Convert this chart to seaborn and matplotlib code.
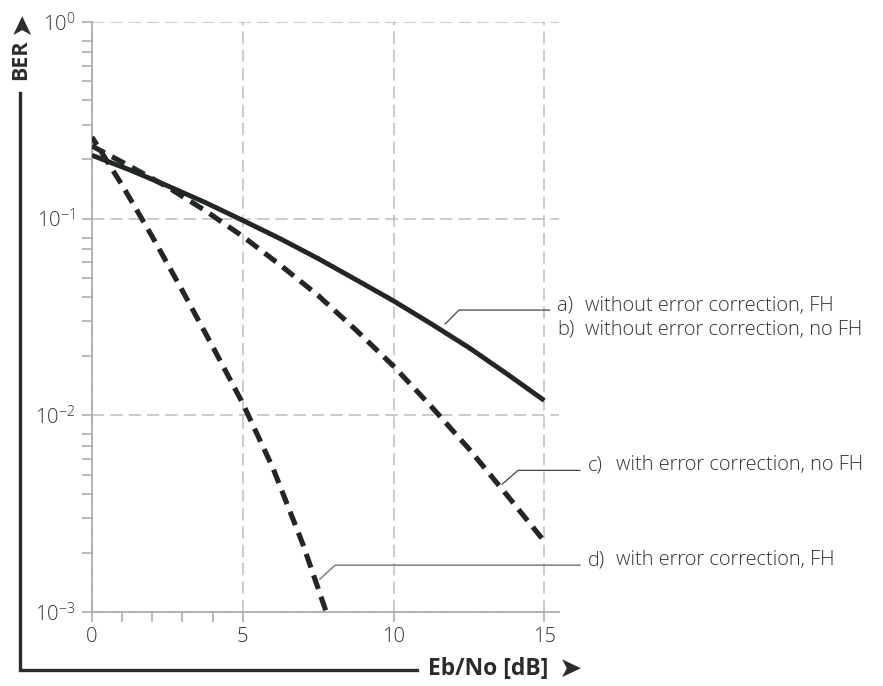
import matplotlib
matplotlib.use("Agg")
import matplotlib.pyplot as plt
import seaborn as sns
import pandas as pd
from matplotlib.lines import Line2D
from matplotlib.ticker import FixedLocator, LogLocator, NullFormatter

# ---- data ----
ebno_ab = [0, 1.25, 2.5, 3.75, 5, 6.25, 7.5, 8.75, 10, 11.25, 12.5, 13.75, 15]
ber_ab = [0.21, 0.177, 0.147, 0.121, 0.098, 0.079, 0.0627, 0.049, 0.0382,
          0.0292, 0.0221, 0.0163, 0.0119]

ebno_c = [0, 1.25, 2.5, 3.75, 5, 6.25, 7.5, 8.75, 10, 11.25, 12.5, 13.75, 15]
ber_c = [0.234, 0.185, 0.145, 0.110, 0.0813, 0.058, 0.0407, 0.0272, 0.0178,
         0.0111, 0.00676, 0.00395, 0.00229]

ebno_d = [7.75, 7, 6, 5, 4, 3, 2, 1, 0]
ber_d = [0.00102, 0.0022, 0.0054, 0.0115, 0.0224, 0.043, 0.081, 0.148, 0.26]

x_major = [0, 5, 10, 15]
x_minor = [1, 2, 3, 4]
x_labels = ["0", "5", "10", "15"]
y_major = [1e-3, 1e-2, 1e-1, 1e0]
y_labels = [r"$\mathregular{10^{-3}}$", r"$\mathregular{10^{-2}}$",
            r"$\mathregular{10^{-1}}$", r"$\mathregular{10^{0}}$"]

label_a = ("a)", "without error correction, FH")
label_b = ("b)", "without error correction, no FH")
label_c = ("c)", "with error correction, no FH")
label_d = ("d)", "with error correction, FH")
x_title = "Eb/No [dB]"
y_title = "BER"

# ---- style ----
sns.set_theme(style="white")
plt.rcParams["font.family"] = ["Open Sans", "DejaVu Sans"]
plt.rcParams["mathtext.fontset"] = "custom"
plt.rcParams["mathtext.rm"] = "Open Sans:light"

LINE = "#222624"
TXT = "#333333"
GRID = "#bdbdbd"
AX = "#a8a8a8"

W, H = 883, 686
fig = plt.figure(figsize=(W / 100, H / 100), dpi=100)
px_x = lambda p: p / W
px_y = lambda p: 1 - p / H
x_left, x_right = 92, 92 + 15.5 * 30.15
y_top, y_bot = 22, 612
ax = fig.add_axes([px_x(x_left), px_y(y_bot), (x_right - x_left) / W, (y_bot - y_top) / H])

df_ab = pd.DataFrame({"ebno": ebno_ab, "ber": ber_ab})
df_c = pd.DataFrame({"ebno": ebno_c, "ber": ber_c})
df_d = pd.DataFrame({"ebno": ebno_d, "ber": ber_d})

sns.lineplot(data=df_ab, x="ebno", y="ber", ax=ax, color=LINE, lw=3.5,
             estimator=None, sort=False, solid_capstyle="butt", zorder=3)
sns.lineplot(data=df_c, x="ebno", y="ber", ax=ax, color=LINE, lw=3.7,
             estimator=None, sort=False, linestyle=(0, (2.8, 1.6)), dash_capstyle="butt", zorder=3)
sns.lineplot(data=df_d, x="ebno", y="ber", ax=ax, color=LINE, lw=3.7,
             estimator=None, sort=False, linestyle=(0, (2.8, 1.6)), dash_capstyle="butt", zorder=3)

ax.set_yscale("log")
ax.set_xlim(0, 15.5)
ax.set_ylim(1e-3, 1e0)
ax.set_xlabel("")
ax.set_ylabel("")

ax.xaxis.set_major_locator(FixedLocator(x_major))
ax.set_xticklabels(x_labels)
ax.xaxis.set_minor_locator(FixedLocator(x_minor))
ax.yaxis.set_major_locator(FixedLocator(y_major))
ax.set_yticklabels(y_labels)
ax.yaxis.set_minor_locator(LogLocator(base=10, subs=[2, 3, 4, 5, 6, 7, 8]))
ax.yaxis.set_minor_formatter(NullFormatter())

ax.tick_params(axis="both", which="both", direction="out", length=7, width=1.1,
               color=AX, labelcolor=TXT, labelsize=14.5)
ax.tick_params(axis="x", which="both", pad=4, bottom=True)
ax.tick_params(axis="y", which="both", pad=5, left=True)
for t in ax.get_xticklabels() + ax.get_yticklabels():
    t.set_fontweight("light")

for s in ["top", "right"]:
    ax.spines[s].set_visible(False)
for s in ["left", "bottom"]:
    ax.spines[s].set_color(AX)
    ax.spines[s].set_linewidth(1.2)

ax.set_axisbelow(True)
ax.grid(True, which="major", color=GRID, linestyle=(0, (8, 4)), linewidth=1.1)
ax.grid(False, which="minor")

# ---- leader lines and labels ----
leader_kw = dict(color="#444444", lw=0.9, clip_on=False, zorder=2)
ax.plot([11.71, 12.17, 15.19], [0.0291, 0.0343, 0.0343], **leader_kw)
ax.plot([13.6, 14.13, 16.19], [0.00446, 0.00525, 0.00525], **leader_kw)
ax.plot([7.56, 8.06, 16.19], [0.00147, 0.00173, 0.00173], color="#888888", lw=1.2,
        clip_on=False, zorder=2)

tkw = dict(fontsize=14.4, color=TXT, va="center", ha="left", clip_on=False,
           fontweight="light")
def lab(xl, y, pair):
    ax.text(xl, y, pair[0], **tkw)
    ax.text(xl + 0.93, y, pair[1], **tkw)
lab(15.42, 0.0360, label_a)
lab(15.42, 0.0273, label_b)
lab(16.45, 0.00557, label_c)
lab(16.45, 0.00183, label_d)

# ---- outer frame L with titles ----
fig.add_artist(Line2D([px_x(20), px_x(20), px_x(417)], [px_y(93), px_y(670), px_y(670)],
                      transform=fig.transFigure, color="#2b2b2b", lw=2.4,
                      solid_joinstyle="miter", solid_capstyle="projecting"))
fig.text(px_x(21), px_y(60), y_title, rotation=90, ha="center", va="center",
         fontsize=15.5, fontweight="bold", color="#2b2b2b")
fig.text(px_x(21), px_y(22), "\u27a4", rotation=90, ha="center", va="center",
         fontsize=20, color="#2b2b2b", family=["DejaVu Sans"])
fig.text(px_x(428), px_y(669), x_title, ha="left", va="center",
         fontsize=16.5, fontweight="bold", color="#2b2b2b")
fig.text(px_x(559), px_y(669), "\u27a4", ha="left", va="center", fontsize=20,
         color="#2b2b2b", family=["DejaVu Sans"])

fig.savefig("out.png", dpi=100)
